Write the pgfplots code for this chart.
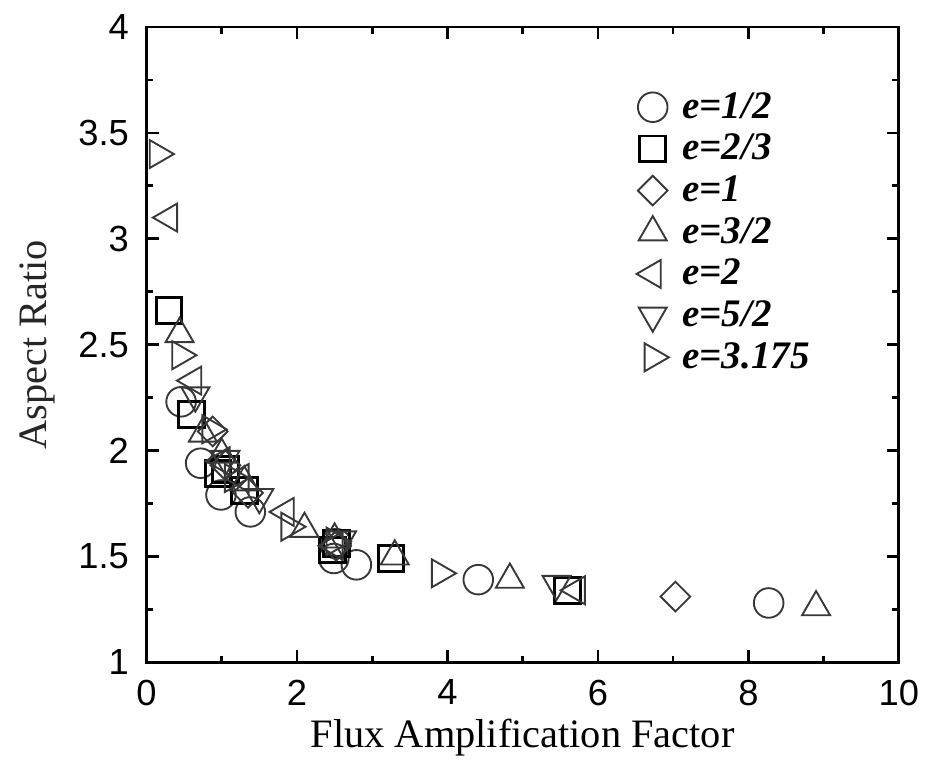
\documentclass[border=0pt]{standalone}
\usepackage{fontspec}
\setmainfont{Liberation Serif}
\setsansfont{Liberation Sans}
\usepackage{pgfplots}
\pgfplotsset{compat=1.18}

\definecolor{mk}{gray}{0.22}

\begin{document}
\begin{tikzpicture}
\begin{axis}[
    scale only axis,
    width=9.83cm, height=8.30cm,
    xmin=0, xmax=10, ymin=1, ymax=4,
    xtick={0,2,...,10}, ytick={1,1.5,...,4},
    minor x tick num=1, minor y tick num=1,
    tick align=inside,
    major tick length=4.5pt, minor tick length=2.5pt,
    axis line style={line width=1.1pt},
    every tick/.style={line width=1pt, black},
    /pgf/number format/assume math mode=true,
    tick label style={font=\sffamily\fontsize{13.5}{15}\selectfont},
    yticklabel style={xshift=-3pt},
    xticklabel style={yshift=-3pt},
    xlabel={Flux Amplification Factor},
    ylabel={Aspect Ratio},
    label style={font=\fontsize{15}{17}\selectfont},
    xlabel style={at={(axis description cs:0.5,-0.118)}, anchor=center},
    ylabel style={at={(axis description cs:-0.145,0.5)}, anchor=center, text=black!85},
    legend style={draw=none, fill=none, at={(axis description cs:0.64,0.915)}, anchor=north west,
        font=\bfseries\itshape\fontsize{14.5}{16}\selectfont, row sep=0.4pt,
        nodes={inner xsep=5pt}},
    legend cell align=left,
    clip=false,
]
% e=1/2
\addplot[only marks, mark=o, mark size=5.5pt, mark options={draw=mk, line width=0.7pt}] coordinates {
    (0.46,2.23) (0.72,1.94) (0.99,1.79) (1.38,1.71) (2.49,1.49) (2.52,1.56)
    (2.79,1.46) (4.41,1.39) (8.27,1.28)
};
\addlegendentry{e=1/2}
% e=2/3
\addplot[only marks, mark=square, mark size=4.8pt, mark options={draw=black, line width=1.1pt}] coordinates {
    (0.30,2.66) (0.60,2.17) (0.95,1.89) (1.05,1.91) (1.30,1.81) (2.47,1.53)
    (2.53,1.56) (3.25,1.49) (5.60,1.34)
};
\addlegendentry{e=2/3}
% e=1
\addplot[only marks, mark=square, mark size=3.9pt, mark options={draw=mk, line width=0.7pt, rotate=45}] coordinates {
    (0.88,2.09) (1.05,1.93) (1.35,1.80) (2.52,1.55) (7.03,1.31)
};
\addlegendentry{e=1}
% e=3/2
\addplot[only marks, mark=triangle, mark size=6pt, mark options={draw=mk, line width=0.7pt}] coordinates {
    (0.44,2.55) (0.75,2.08) (1.00,1.98) (1.30,1.85) (2.10,1.63) (2.50,1.58)
    (3.30,1.50) (4.83,1.39) (8.90,1.26)
};
\addlegendentry{e=3/2}
% e=2
\addplot[only marks, mark=triangle, mark size=6pt, mark options={draw=mk, line width=0.7pt, rotate=90}] coordinates {
    (0.30,3.10) (0.62,2.33) (1.00,1.95) (1.25,1.87) (1.85,1.71) (2.50,1.55)
    (5.72,1.34)
};
\addlegendentry{e=2}
% e=5/2
\addplot[only marks, mark=triangle, mark size=6pt, mark options={draw=mk, line width=0.7pt, rotate=180}] coordinates {
    (0.65,2.26) (1.05,1.96) (1.50,1.78) (2.60,1.58) (5.45,1.37)
};
\addlegendentry{e=5/2}
% e=3.175
\addplot[only marks, mark=triangle, mark size=6pt, mark options={draw=mk, line width=0.7pt, rotate=-90}] coordinates {
    (0.15,3.40) (0.45,2.45) (0.85,2.10) (1.15,1.87) (1.90,1.64) (2.50,1.57)
    (3.90,1.42)
};
\addlegendentry{e=3.175}
% page margins as in the reference
\path (rel axis cs:-0.1947,-0.162) (rel axis cs:1.0263,1.0425);
\end{axis}
\end{tikzpicture}
\end{document}
